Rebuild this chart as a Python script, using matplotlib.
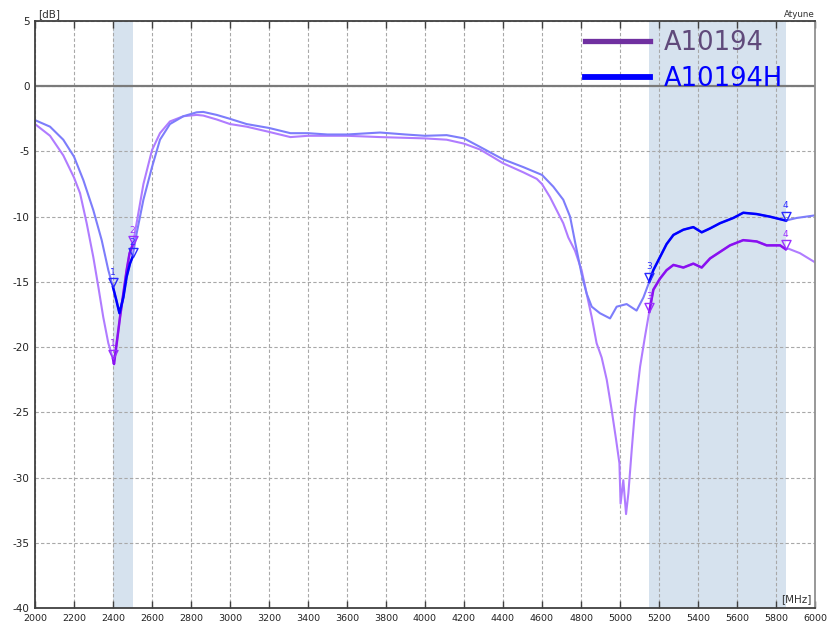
import numpy as np
import matplotlib
matplotlib.use("Agg")
import matplotlib.pyplot as plt
from matplotlib.path import Path
from matplotlib.lines import Line2D

plt.rcParams['axes.unicode_minus'] = False
plt.rcParams['font.family'] = ['DejaVu Sans']

# ---------------- data ----------------
freq_h = [2000, 2077, 2145, 2200, 2248, 2299, 2342, 2376, 2400, 2417, 2433, 2453, 2470, 2487, 2500,
          2521, 2556, 2600, 2641, 2692, 2761, 2829, 2863, 2932, 3000, 3085, 3200, 3310, 3400, 3500,
          3600, 3770, 3900, 4000, 4111, 4200, 4282, 4350, 4400, 4504, 4600, 4658, 4709, 4744, 4769,
          4803, 4829, 4855, 4897, 4949, 4983, 5034, 5085, 5120, 5150, 5171, 5205, 5239, 5274, 5325,
          5376, 5419, 5462, 5513, 5581, 5632, 5701, 5769, 5850, 5906, 6000]
db_h = [-2.6, -3.1, -4.1, -5.4, -7.2, -9.5, -11.8, -14.1, -15.4, -16.4, -17.4, -16.2, -14.6, -13.6, -13.1,
        -11.3, -8.7, -6.2, -4.1, -2.9, -2.3, -2.0, -1.97, -2.2, -2.5, -2.9, -3.2, -3.6, -3.6, -3.7,
        -3.7, -3.55, -3.7, -3.8, -3.75, -4.0, -4.65, -5.2, -5.6, -6.2, -6.8, -7.7, -8.7, -10.0, -11.9,
        -14.4, -15.9, -16.9, -17.4, -17.8, -16.9, -16.7, -17.2, -16.2, -15.0, -14.1, -13.1, -12.1, -11.4, -11.0,
        -10.8, -11.2, -10.9, -10.5, -10.1, -9.7, -9.8, -10.0, -10.3, -10.1, -9.9]

freq_p = [2000, 2077, 2145, 2200, 2231, 2265, 2299, 2325, 2350, 2376, 2400, 2405, 2419, 2436, 2453,
          2470, 2485, 2500, 2521, 2556, 2600, 2641, 2692, 2761, 2829, 2863, 2932, 3000, 3085, 3200,
          3310, 3400, 3600, 3770, 4000, 4111, 4200, 4282, 4350, 4400, 4504, 4573, 4600, 4641, 4675,
          4709, 4735, 4769, 4803, 4829, 4855, 4880, 4906, 4932, 4957, 4980, 4997, 5003, 5017, 5031,
          5043, 5060, 5077, 5103, 5128, 5150, 5171, 5205, 5239, 5274, 5325, 5376, 5419, 5462, 5513,
          5564, 5632, 5701, 5752, 5821, 5850, 5863, 5923, 6000]
db_p = [-2.9, -3.8, -5.3, -7.0, -8.2, -10.5, -13.1, -15.4, -17.7, -19.7, -20.9, -21.3, -19.7, -17.7, -15.9,
        -14.1, -12.8, -12.2, -10.5, -7.5, -4.9, -3.6, -2.7, -2.3, -2.2, -2.25, -2.55, -2.9, -3.1, -3.5,
        -3.9, -3.8, -3.8, -3.9, -4.0, -4.1, -4.4, -4.85, -5.45, -5.9, -6.6, -7.1, -7.5, -8.5, -9.5,
        -10.5, -11.6, -12.6, -14.1, -15.9, -17.7, -19.7, -20.8, -22.5, -24.8, -27.1, -28.9, -32.0, -30.2, -32.8,
        -31.2, -27.9, -24.8, -21.5, -19.2, -17.3, -15.6, -14.75, -14.1, -13.7, -13.9, -13.6, -13.9, -13.2, -12.7,
        -12.2, -11.8, -11.9, -12.2, -12.2, -12.5, -12.45, -12.8, -13.5]

bands = [(2400, 2500), (5150, 5850)]
marker_freqs = [2400, 2500, 5150, 5850]
marker_names = ['1', '2', '3', '4']
series_names = ['A10194', 'A10194H']
x_ticks = list(range(2000, 6001, 200))
y_ticks = list(range(-40, 6, 5))

# ---------------- styling ----------------
light_p, dark_p, mk_p = '#b07cff', '#8a10f0', '#9a30ff'
light_h, dark_h, mk_h = '#7d7dfb', '#0000ff', '#2a2aff'

fig = plt.figure(figsize=(8.29, 6.3), dpi=100)
ax = fig.add_axes([35/829, 1-608/630, 780/829, 587/630])

for lo, hi in bands:
    ax.axvspan(lo, hi, color='#d6e2ee', zorder=0.2, lw=0)

ax.set_xlim(2000, 6000)
ax.set_ylim(-40, 5)
ax.set_xticks(x_ticks)
ax.set_yticks(y_ticks)
ax.grid(True, ls=(0, (3, 2)), color='#a8a8a8', lw=0.8, zorder=0.5)
ax.set_axisbelow(True)
ax.axhline(0, color='#7a7a7a', lw=1.6, zorder=0.6)

tri = Path([(-0.5, 1.0), (0.5, 1.0), (0.0, 0.0), (-0.5, 1.0)],
           [Path.MOVETO, Path.LINETO, Path.LINETO, Path.CLOSEPOLY])

for fr, db, lc, dc, mc in [(freq_p, db_p, light_p, dark_p, mk_p),
                           (freq_h, db_h, light_h, dark_h, mk_h)]:
    fr = np.array(fr); db = np.array(db)
    ax.plot(fr, db, color=lc, lw=1.5, zorder=2)
    for lo, hi in bands:
        m = (fr >= lo) & (fr <= hi)
        ax.plot(fr[m], db[m], color=dc, lw=1.8, zorder=3)
    for f, n in zip(marker_freqs, marker_names):
        v = db[list(fr).index(f)]
        ax.plot([f], [v], ls='none', marker=tri, ms=13, mfc='none', mec=mc, mew=1.0, zorder=4)
        ax.annotate(n, (f, v), xytext=(0, 7.5), textcoords='offset points', ha='center',
                    va='bottom', fontsize=6.5, color=mc, zorder=5)

ax.tick_params(axis='x', direction='in', top=True, bottom=True, length=5, width=1,
               color='#404040', labelsize=6.8, labelcolor='#222222', pad=4)
ax.tick_params(axis='y', length=0, labelsize=7.5, labelcolor='#222222', pad=4)
for s in ['left', 'bottom', 'top']:
    ax.spines[s].set_color('#404040')
    ax.spines[s].set_linewidth(1.3)
ax.spines['right'].set_color('#909090')
ax.spines['right'].set_linewidth(1.3)

ax.text(0.004, 1.004, '[dB]', transform=ax.transAxes, ha='left', va='bottom', fontsize=7.5, color='#333333')
ax.text(1.0, 1.004, 'Atyune', transform=ax.transAxes, ha='right', va='bottom', fontsize=6.3, color='#333333')
ax.text(0.996, 0.006, '[MHz]', transform=ax.transAxes, ha='right', va='bottom', fontsize=7.5, color='#333333')

handles = [Line2D([], [], color='#7030a0', lw=3.8), Line2D([], [], color='#0000ff', lw=4.2)]
leg = ax.legend(handles, series_names, loc='upper left', bbox_to_anchor=(0.7045, 0.985),
                frameon=False, fontsize=18.5, handlelength=2.55, handletextpad=0.55,
                labelspacing=0.38, borderpad=0, borderaxespad=0)
for t, c in zip(leg.get_texts(), ['#604a7b', '#0000ff']):
    t.set_color(c)
leg.set_zorder(6)

fig.savefig('out.png', dpi=100)
